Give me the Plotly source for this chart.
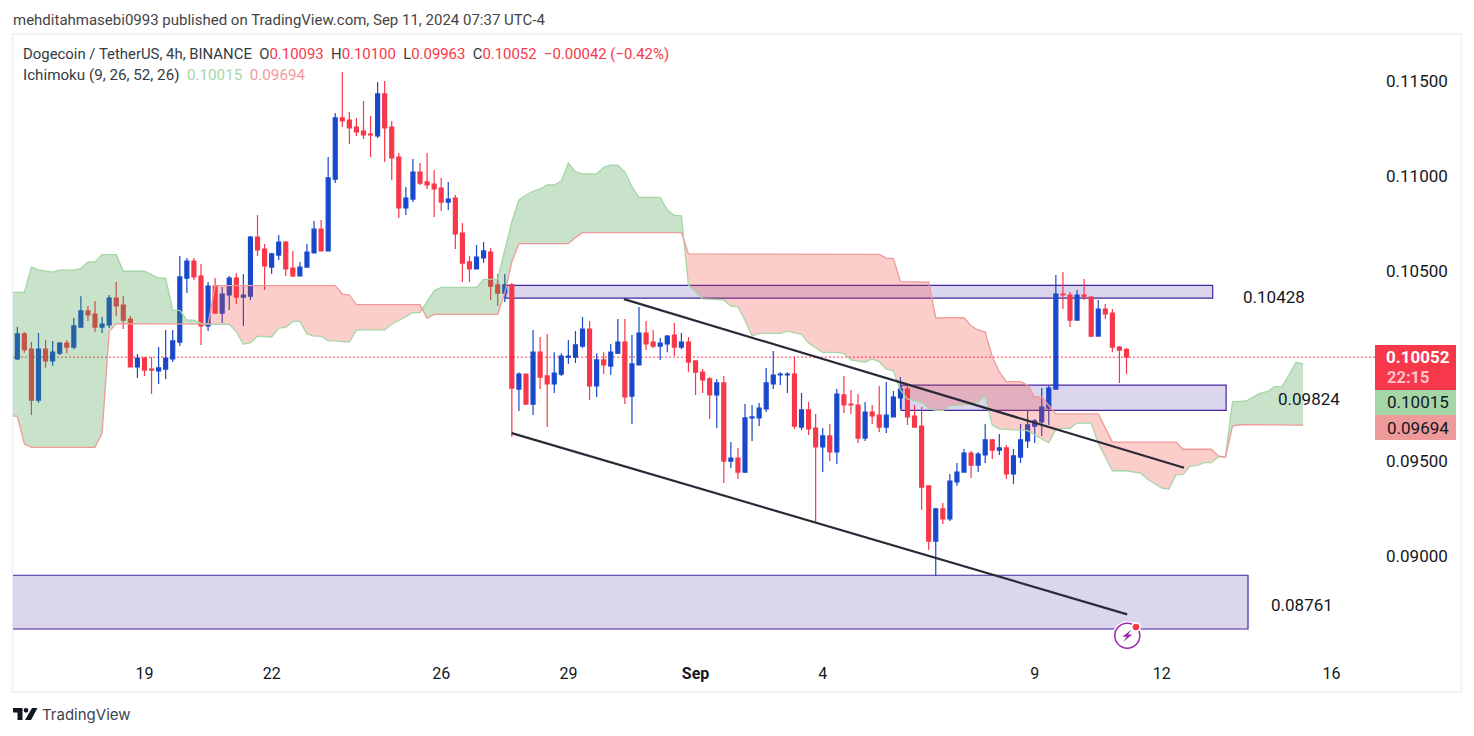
import plotly.graph_objects as go

# ---------- data ----------
bars = list(range(158))
open_ = [0.10042,0.10174,0.10094,0.09826,0.10094,0.10032,0.10073,0.10126,0.10105,0.10210,
0.10295,0.10279,0.10210,0.10221,0.10363,0.10326,0.10252,0.10000,0.10047,0.09989,
0.09979,0.09989,0.10042,0.10131,0.10468,0.10558,0.10479,0.10216,0.10426,0.10284,
0.10379,0.10468,0.10368,0.10373,0.10684,0.10621,0.10526,0.10589,0.10658,0.10521,
0.10479,0.10526,0.10600,0.10726,0.10611,0.10989,0.11311,0.11300,0.11263,0.11242,
0.11226,0.11216,0.11437,0.11263,0.11105,0.10837,0.10884,0.11026,0.10974,0.10963,
0.10942,0.10868,0.10889,0.10705,0.10553,0.10516,0.10574,0.10605,0.10432,0.10389,
0.10432,0.09884,0.09963,0.09805,0.10078,0.09953,0.09911,0.09963,0.10052,0.10052,
0.10110,0.10200,0.09900,0.10037,0.10005,0.10073,0.10131,0.09847,0.10011,0.10179,
0.10131,0.10110,0.10121,0.10168,0.10105,0.10131,0.10032,0.09973,0.09937,0.09853,
0.09916,0.09505,0.09521,0.09447,0.09732,0.09732,0.09779,0.09911,0.09958,0.09958,
0.09963,0.09684,0.09774,0.09679,0.09579,0.09637,0.09553,0.09853,0.09805,0.09800,
0.09626,0.09763,0.09747,0.09684,0.09737,0.09837,0.09884,0.09742,0.09689,0.09374,
0.09084,0.09253,0.09200,0.09395,0.09447,0.09547,0.09484,0.09537,0.09616,0.09563,
0.09574,0.09437,0.09526,0.09611,0.09689,0.09711,0.09784,0.09884,0.10384,0.10379,
0.10247,0.10379,0.10368,0.10163,0.10305,0.10284,0.10105,0.10093]
high = [0.10212,0.10184,0.10131,0.10179,0.10142,0.10137,0.10131,0.10142,0.10258,0.10373,
0.10321,0.10347,0.10263,0.10379,0.10447,0.10373,0.10268,0.10068,0.10052,0.10052,
0.10105,0.10195,0.10195,0.10584,0.10574,0.10574,0.10542,0.10447,0.10468,0.10421,
0.10479,0.10495,0.10489,0.10689,0.10800,0.10647,0.10600,0.10695,0.10663,0.10611,
0.10553,0.10647,0.10768,0.10774,0.11105,0.11337,0.11553,0.11342,0.11311,0.11400,
0.11321,0.11500,0.11505,0.11295,0.11126,0.10947,0.11095,0.11074,0.11126,0.11037,
0.10995,0.10974,0.10905,0.10758,0.10584,0.10642,0.10658,0.10626,0.10489,0.10489,
0.10442,0.09973,0.09965,0.10195,0.10158,0.10174,0.10078,0.10073,0.10142,0.10189,
0.10263,0.10242,0.10073,0.10078,0.10121,0.10252,0.10252,0.10168,0.10316,0.10242,
0.10195,0.10153,0.10168,0.10232,0.10179,0.10158,0.10035,0.09989,0.09947,0.09937,
0.09953,0.09605,0.09574,0.09805,0.09800,0.09811,0.09995,0.10084,0.09973,0.09973,
0.10052,0.09863,0.09816,0.09753,0.09679,0.09700,0.09884,0.09953,0.09879,0.09858,
0.09816,0.09800,0.09900,0.09921,0.09874,0.09947,0.09911,0.09800,0.09789,0.09376,
0.09258,0.09284,0.09437,0.09495,0.09568,0.09558,0.09553,0.09700,0.09621,0.09647,
0.09589,0.09568,0.09700,0.09774,0.09726,0.09889,0.09900,0.10484,0.10500,0.10395,
0.10405,0.10463,0.10373,0.10353,0.10332,0.10305,0.10110,0.10100]
low = [0.10037,0.10075,0.09748,0.09812,0.09997,0.10007,0.10063,0.10073,0.10094,0.10210,
0.10242,0.10184,0.10179,0.10205,0.10268,0.10200,0.09998,0.09942,0.09953,0.09858,
0.09911,0.09937,0.10026,0.10110,0.10389,0.10458,0.10116,0.10189,0.10284,0.10232,
0.10300,0.10332,0.10216,0.10353,0.10584,0.10405,0.10489,0.10563,0.10479,0.10474,
0.10476,0.10526,0.10600,0.10611,0.10611,0.10968,0.11263,0.11174,0.11216,0.11200,
0.11105,0.11205,0.11079,0.10984,0.10784,0.10800,0.10868,0.10958,0.10937,0.10789,
0.10821,0.10826,0.10621,0.10447,0.10447,0.10516,0.10547,0.10353,0.10321,0.10342,
0.09632,0.09768,0.09800,0.09748,0.09884,0.09684,0.09863,0.09953,0.10016,0.10021,
0.10100,0.09826,0.09842,0.09963,0.09958,0.10068,0.09805,0.09700,0.10011,0.10089,
0.10100,0.10037,0.10078,0.10058,0.10094,0.09973,0.09853,0.09863,0.09726,0.09679,
0.09389,0.09468,0.09411,0.09442,0.09611,0.09689,0.09763,0.09884,0.09905,0.09863,
0.09674,0.09668,0.09642,0.09184,0.09447,0.09505,0.09489,0.09758,0.09753,0.09600,
0.09611,0.09700,0.09658,0.09653,0.09737,0.09779,0.09695,0.09684,0.09247,0.09037,
0.08900,0.09174,0.09189,0.09374,0.09447,0.09416,0.09447,0.09495,0.09516,0.09537,
0.09411,0.09384,0.09495,0.09574,0.09600,0.09637,0.09695,0.09884,0.10305,0.10210,
0.10247,0.10353,0.10158,0.10163,0.10252,0.10078,0.09916,0.09963]
close = [0.10174,0.10091,0.09826,0.10094,0.10032,0.10078,0.10126,0.10105,0.10216,0.10295,
0.10274,0.10210,0.10226,0.10363,0.10321,0.10247,0.10000,0.10047,0.09984,0.09984,
0.09995,0.10047,0.10137,0.10474,0.10558,0.10474,0.10216,0.10426,0.10284,0.10384,
0.10468,0.10368,0.10379,0.10684,0.10616,0.10532,0.10595,0.10658,0.10516,0.10479,
0.10526,0.10605,0.10726,0.10611,0.10995,0.11311,0.11295,0.11258,0.11237,0.11221,
0.11221,0.11437,0.11258,0.11100,0.10837,0.10889,0.11026,0.10968,0.10958,0.10937,
0.10868,0.10884,0.10700,0.10547,0.10516,0.10579,0.10611,0.10426,0.10389,0.10432,
0.09889,0.09963,0.09805,0.10078,0.09947,0.09911,0.09968,0.10058,0.10058,0.10116,
0.10200,0.09900,0.10037,0.10011,0.10078,0.10131,0.09842,0.10016,0.10179,0.10121,
0.10110,0.10126,0.10163,0.10105,0.10131,0.10026,0.09973,0.09932,0.09853,0.09916,
0.09505,0.09521,0.09447,0.09732,0.09737,0.09784,0.09916,0.09958,0.09963,0.09963,
0.09689,0.09774,0.09674,0.09579,0.09637,0.09553,0.09858,0.09800,0.09800,0.09626,
0.09763,0.09742,0.09684,0.09747,0.09842,0.09884,0.09737,0.09684,0.09368,0.09084,
0.09253,0.09200,0.09400,0.09447,0.09547,0.09484,0.09542,0.09616,0.09563,0.09574,
0.09437,0.09532,0.09616,0.09695,0.09716,0.09789,0.09889,0.10384,0.10379,0.10247,
0.10379,0.10373,0.10163,0.10305,0.10279,0.10105,0.10089,0.10052]

lead_a_bars = [-1,1,2,3,5,6,8,9,10,11,12,14,15,18,20,21,22,23,24,25,26,27,30,31,32,33,34,36,37,38,39,40,41,42,43,44,45,47,48,52,53,55,56,57,57.33,
58,59,60,65,66,68,69,70,71,72,73,74,75,76,77,78,79,80,82,83,84,85,86,87,88,91,92,93,94,94.35,
95,96,97,100,101,102,103,104,105,108,109,111,112,114,116,117,118,120,121,122,123,124,125,126,128,129,130,131,132,135,136,137,138,139,142,143,145,146,147,148,149,150,152,153,154,155,157,159,160,162,163,164,165,166,167,168,169,170,171,
172,174,175,176,177,178,179,180,181,182]
lead_a = [0.10393,0.10393,0.10526,0.10511,0.10499,0.10510,0.10510,0.10518,0.10553,0.10553,0.10591,0.10591,0.10504,0.10504,0.10467,0.10467,0.10298,0.10298,0.10247,0.10247,0.10230,0.10226,0.10225,0.10186,0.10120,0.10128,0.10162,0.10158,0.10205,0.10209,0.10240,0.10240,0.10174,0.10162,0.10162,0.10138,0.10138,0.10131,0.10195,0.10195,0.10225,0.10265,0.10286,0.10286,0.10305,
0.10344,0.10401,0.10419,0.10419,0.10461,0.10463,0.10616,0.10765,0.10879,0.10905,0.10925,0.10937,0.10958,0.10958,0.10979,0.11072,0.11028,0.11016,0.11016,0.11051,0.11063,0.11063,0.11026,0.10949,0.10893,0.10893,0.10826,0.10798,0.10796,0.10667,
0.10432,0.10395,0.10358,0.10353,0.10320,0.10318,0.10246,0.10163,0.10177,0.10177,0.10189,0.10172,0.10126,0.10077,0.10077,0.10070,0.10038,0.10025,0.10042,0.10028,0.09989,0.09980,0.09879,0.09832,0.09814,0.09783,0.09772,0.09772,0.09795,0.09805,0.09816,0.09849,0.09695,0.09674,0.09665,0.09665,0.09621,0.09602,0.09672,0.09677,0.09677,0.09705,0.09705,0.09598,0.09526,0.09454,0.09454,0.09441,0.09409,0.09362,0.09358,0.09432,0.09435,0.09479,0.09481,0.09497,0.09497,0.09528,0.09525,
0.09816,0.09821,0.09844,0.09862,0.09872,0.09897,0.09897,0.09958,0.10025,0.10015]

lead_b_bars = [-1,0,1,2,11,12,13,14,27,28,45,46,47,48,57,57.33,
58,59,68,69,70,71,78,79,80,94,94.35,
95,122,123,124,125,129,130,134,135,136,137,138,139,140,142,143,144,145,146,147,153,155,164,165,169,170,171,
172,173,182]
lead_b = [0.09741,0.09741,0.09595,0.09577,0.09577,0.09651,0.10186,0.10228,0.10226,0.10428,0.10428,0.10384,0.10379,0.10328,0.10328,0.10305,
0.10256,0.10277,0.10277,0.10389,0.10554,0.10649,0.10649,0.10681,0.10707,0.10707,0.10667,
0.10595,0.10593,0.10572,0.10572,0.10449,0.10447,0.10258,0.10260,0.10216,0.10195,0.10184,0.10054,0.09974,0.09923,0.09923,0.09905,0.09842,0.09842,0.09800,0.09753,0.09753,0.09605,0.09605,0.09567,0.09567,0.09532,0.09525,
0.09689,0.09696,0.09694]

# bars where the two cloud lines meet, and which colour follows each one
cloud_limits = [-1, 27, 57.33, 94.35, 171, 182]
cloud_colours = ["green", "red", "green", "red", "green"]

zone_bars = [(69.13, 169.2), (125.1, 171.1), (-1, 174.2)]
zone_prices = [(0.10362, 0.10430), (0.09772, 0.09905), (0.08621, 0.08904)]
zone_labels = ["0.10428", "0.09824", "0.08761"]

trend_upper_bars, trend_upper_prices = [85.87, 165.14], [0.10357, 0.09470]
trend_lower_bars, trend_lower_prices = [69.98, 157.1], [0.09652, 0.08698]

last_price = 0.10052
price_ticks = [0.09, 0.095, 0.105, 0.11, 0.115]
date_tick_bars = [18, 36, 60, 78, 96, 114, 144, 162, 186]
date_tick_labels = ["19", "22", "26", "29", "<b>Sep</b>", "4", "9", "12", "16"]

# ---------- styling ----------
W, H = 1474, 736
L, R, T, B = 13, 1375, 36, 658
BLUE, RED = "#1848cc", "#f7374a"
FONT = "Roboto"
INK = "#333b45"


def px(x):
    return (x - L) / (R - L)


def py(y):
    return 1 - (y - T) / (B - T)


fig = go.Figure()

# cloud fills
fills = {"green": "rgba(67,160,71,0.29)", "red": "rgba(244,67,54,0.26)"}
for k, colour in enumerate(cloud_colours):
    lo_x, hi_x = cloud_limits[k], cloud_limits[k + 1]
    ax = [x for x in lead_a_bars if lo_x <= x <= hi_x]
    ay = [v for x, v in zip(lead_a_bars, lead_a) if lo_x <= x <= hi_x]
    bx = [x for x in lead_b_bars if lo_x <= x <= hi_x]
    by = [v for x, v in zip(lead_b_bars, lead_b) if lo_x <= x <= hi_x]
    fig.add_trace(go.Scatter(x=ax + bx[::-1], y=ay + by[::-1], mode="lines", fill="toself",
                             fillcolor=fills[colour], line=dict(width=0), hoverinfo="skip",
                             showlegend=False))
fig.add_trace(go.Scatter(x=lead_a_bars, y=lead_a, mode="lines", line=dict(color="#a5d6a7", width=1.3),
                         hoverinfo="skip", showlegend=False))
fig.add_trace(go.Scatter(x=lead_b_bars, y=lead_b, mode="lines", line=dict(color="#ef9a9a", width=1.3),
                         hoverinfo="skip", showlegend=False))

# candles
fig.add_trace(go.Candlestick(x=bars, open=open_, high=high, low=low, close=close,
                             increasing=dict(line=dict(color=BLUE, width=1.2), fillcolor=BLUE),
                             decreasing=dict(line=dict(color=RED, width=1.2), fillcolor=RED),
                             whiskerwidth=0, hoverinfo="skip", showlegend=False))

# trend lines
for xs, ys in ((trend_upper_bars, trend_upper_prices), (trend_lower_bars, trend_lower_prices)):
    fig.add_trace(go.Scatter(x=xs, y=ys, mode="lines", line=dict(color="#2a2a38", width=2.2),
                             hoverinfo="skip", showlegend=False))

shapes = []
for (x0, x1), (y0, y1) in zip(zone_bars, zone_prices):
    shapes.append(dict(type="rect", xref="x", yref="y", x0=x0, x1=x1, y0=y0, y1=y1, layer="below",
                       fillcolor="rgba(81,45,168,0.2)", line=dict(color="#4527a0", width=1.2)))
shapes.append(dict(type="line", xref="paper", yref="y", x0=0, x1=1, y0=last_price, y1=last_price,
                   layer="below", line=dict(color=RED, width=1, dash="2px,2px")))


def frect(x0, y0, x1, y1, fill, line=None, layer="above"):
    return dict(type="rect", xref="paper", yref="paper", x0=px(x0), x1=px(x1), y0=py(y0), y1=py(y1),
                fillcolor=fill, line=line or dict(width=0), layer=layer)


def fcircle(cx, cy, r, fill, line=None):
    return dict(type="circle", xref="paper", yref="paper", x0=px(cx - r), x1=px(cx + r),
                y0=py(cy + r), y1=py(cy - r), fillcolor=fill, line=line or dict(width=0), layer="above")


def fpoly(points, fill):
    path = "M " + " L ".join(f"{px(x):.5f},{py(y):.5f}" for x, y in points) + " Z"
    return dict(type="path", xref="paper", yref="paper", path=path, fillcolor=fill,
                line=dict(width=0), layer="above")


shapes.append(frect(12.5, 34, 1461.5, 692, "rgba(0,0,0,0)", dict(color="#f0f3fa", width=2), "below"))
# last-value boxes on the price axis
shapes.append(frect(1375, 345, 1456, 390, RED))
shapes.append(frect(1375, 390, 1456, 415, "#a5d6a7"))
shapes.append(frect(1375, 415, 1456, 440, "#ef9a9a"))
# publisher logo
shapes.append(fpoly([(13, 708), (22.5, 708), (22.5, 720), (17.5, 720), (17.5, 712.5), (13, 712.5)], "#131722"))
shapes.append(fcircle(26, 710.3, 2.4, "#131722"))
shapes.append(fpoly([(32, 708), (37.5, 708), (31, 720), (25, 720)], "#131722"))
# ideas badge
cx, cy = 1127.3, 635.7
shapes.append(fcircle(cx, cy, 14.5, "white"))
shapes.append(fcircle(cx, cy, 12.5, "white", dict(color="#9c27b0", width=1.5)))
shapes.append(fpoly([(cx + 4, cy - 6), (cx - 5, cy + 1), (cx - 0.8, cy + 1), (cx - 4, cy + 6),
                     (cx + 5, cy - 1.3), (cx + 0.8, cy - 1.3)], "#9c27b0"))
shapes.append(fcircle(1136, 627, 5, "white"))
shapes.append(fcircle(1136, 627, 3.3, RED))


def text(x, y, s, size, colour=INK, anchor="left", family=FONT):
    return dict(xref="paper", yref="paper", x=px(x), y=py(y), text=s, showarrow=False, xanchor=anchor,
                yanchor="middle", font=dict(family=family, size=size, color=colour), borderpad=0, borderwidth=0)


RV = f"color:{RED}"
GAP = "\u00a0\u00a0"
header = (f"Dogecoin / TetherUS, 4h, BINANCE{GAP}O"
          f"<span style='{RV}'>0.10093</span>{GAP}H<span style='{RV}'>0.10100</span>{GAP}"
          f"L<span style='{RV}'>0.09963</span>{GAP}C<span style='{RV}'>0.10052</span>{GAP}"
          f"<span style='{RV}'>\u22120.00042 (\u22120.42%)</span>")
ichimoku = (f"Ichimoku (9, 26, 52, 26){GAP}<span style='color:#a5d6a7'>0.10015</span>{GAP}"
            "<span style='color:#ef9a9a'>0.09694</span>")
annotations = [
    text(13, 20, "mehditahmasebi0993 published on TradingView.com, Sep 11, 2024 07:37 UTC-4", 15, "#444"),
    text(23, 54, header, 14.9),
    text(23, 75, ichimoku, 15.2),
    text(1274, 297, zone_labels[0], 17, "#131722", "center"),
    text(1309, 399, zone_labels[1], 17, "#131722", "center"),
    text(1301.5, 605, zone_labels[2], 17, "#131722", "center"),
    text(1386, 357, "<b>0.10052</b>", 17, "white"),
    text(1387, 378, "<b>22:15</b>", 16.5, "#fbc4ca"),
    text(1387, 402, "0.10015", 17, "#131722"),
    text(1387, 427.5, "0.09694", 17, "#131722"),
    text(42, 714, "TradingView", 15, "#40444f", family="Inter"),
]

x_lo = (L - 17.3) / 7.065
x_hi = (R - 17.3) / 7.065
y_hi = 0.115 - (T - 82) / 19000
y_lo = 0.115 - (B - 82) / 19000

fig.update_layout(
    width=W, height=H, autosize=False, margin=dict(l=L, r=W - R, t=T, b=H - B, pad=0),
    paper_bgcolor="white", plot_bgcolor="white", showlegend=False, hovermode=False,
    boxgap=0.2, dragmode=False, shapes=shapes, annotations=annotations,
    xaxis=dict(range=[x_lo, x_hi], rangeslider=dict(visible=False), showgrid=False, zeroline=False,
               showline=False, tickmode="array", tickvals=date_tick_bars, ticktext=date_tick_labels,
               ticks="", tickangle=0, tickfont=dict(family=FONT, size=16, color="#131722"),
               ticklabelstandoff=4),
    yaxis=dict(range=[y_lo, y_hi], side="right", showgrid=False, zeroline=False, showline=False,
               tickmode="array", tickvals=price_ticks, tickformat=".5f", ticks="",
               tickfont=dict(family=FONT, size=17, color="#131722"), ticklabelstandoff=10,
               ticklabelshift=-1),
)

fig.write_html("out.html", config=dict(displayModeBar=False, staticPlot=True),
               post_script="document.body.style.margin='0';document.documentElement.style.overflow='hidden';")
